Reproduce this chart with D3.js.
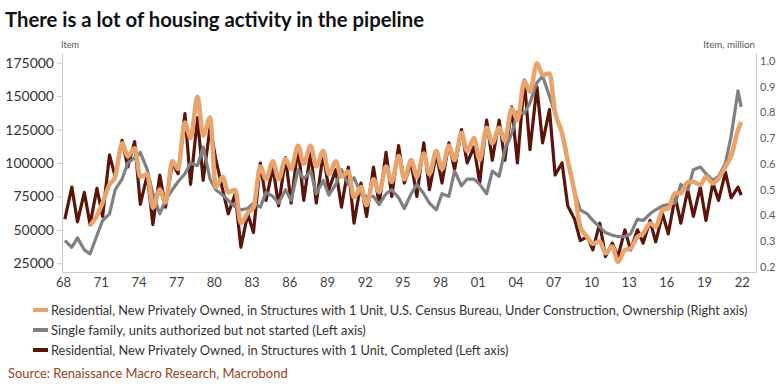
<!DOCTYPE html>
<meta charset="utf-8">
<script src="https://d3js.org/d3.v7.min.js"></script>
<style>
  body { margin: 0; background: #fff; }
  text { font-family: Lato, "Open Sans", sans-serif; }
</style>
<body>
<div id="chart"></div>
<script>
// half-year samples: early (Y+0.15) and mid/late (Y+0.7) of each year, last point early 2022
var dates = [];
for (var yr = 1968; yr <= 2021; yr++) { dates.push(yr + 0.15, yr + 0.7); }
dates.push(2021.95);

// Completed, 1 unit (left axis)
var completed = [
  58000, 82000, 56000, 78000, 54000, 81000, 60000, 106000, 90000, 117000,
  97000, 116000, 69000, 91000, 54000, 91000, 67000, 100000, 92000, 137000,
  84000, 134000, 87000, 127000, 103000, 80000, 62000, 77000, 37000, 62000,
  48000, 100000, 72000, 97000, 68000, 104000, 70000, 112000, 72000, 108000,
  70000, 107000, 80000, 95000, 67000, 97000, 55000, 85000, 60000, 97000,
  69000, 108000, 75000, 113000, 85000, 100000, 75000, 115000, 80000, 107000,
  85000, 115000, 95000, 125000, 100000, 112000, 85000, 132000, 102000, 132000,
  102000, 142000, 100000, 162000, 110000, 157000, 115000, 140000, 91000, 100000,
  68000, 58000, 42000, 45000, 35000, 55000, 30000, 40000, 30000, 50000,
  35000, 50000, 40000, 57000, 41000, 62000, 47000, 75000, 55000, 80000,
  60000, 82000, 57000, 85000, 72000, 93000, 74000, 82000, 76000
];

// Under construction, ownership, 1 unit (right axis, million)
var underConstruction = [
  null, null, null, null, 0.36, 0.40, 0.45, 0.52, 0.55, 0.68,
  0.63, 0.66, 0.55, 0.56, 0.43, 0.50, 0.45, 0.61, 0.58, 0.76,
  0.70, 0.86, 0.71, 0.78, 0.51, 0.55, 0.49, 0.50, 0.37, 0.41,
  0.43, 0.59, 0.54, 0.61, 0.54, 0.62, 0.58, 0.67, 0.60, 0.67,
  0.59, 0.65, 0.56, 0.61, 0.55, 0.57, 0.47, 0.51, 0.44, 0.54,
  0.49, 0.59, 0.53, 0.63, 0.54, 0.615, 0.55, 0.64, 0.56, 0.65,
  0.58, 0.67, 0.615, 0.72, 0.65, 0.70, 0.615, 0.74, 0.68, 0.74,
  0.69, 0.815, 0.77, 0.92, 0.88, 0.99, 0.945, 0.95, 0.80, 0.72,
  0.615, 0.49, 0.356, 0.317, 0.29, 0.30, 0.253, 0.279, 0.22, 0.266,
  0.272, 0.317, 0.33, 0.369, 0.356, 0.421, 0.427, 0.486, 0.486, 0.53,
  0.53, 0.518, 0.55, 0.524, 0.544, 0.589, 0.63, 0.731, 0.763
];

// Single family, authorized but not started (left axis)
var notStarted = [
  42000, 37000, 44000, 35000, 32000, 46000, 57000, 62000, 80000, 88000,
  100000, 104000, 108000, 95000, 77000, 62000, 72000, 80000, 86000, 92000,
  100000, 98000, 112000, 88000, 80000, 76000, 72000, 67000, 65000, 66000,
  70000, 67000, 78000, 75000, 70000, 80000, 72000, 95000, 88000, 94000,
  77000, 87000, 76000, 84000, 95000, 84000, 89000, 77000, 75000, 75000,
  69000, 77000, 80000, 74000, 66000, 77000, 84000, 77000, 70000, 65000,
  77000, 75000, 94000, 83000, 88000, 88000, 84000, 77000, 94000, 90000,
  110000, 122000, 138000, 137000, 145000, 160000, 165000, 150000, 137000, 122000,
  100000, 78000, 65000, 62000, 57000, 52000, 48000, 46000, 45000, 45000,
  47000, 58000, 57000, 62000, 65000, 68000, 69000, 70000, 84000, 80000,
  95000, 97000, 92000, 87000, 90000, 100000, 120000, 154000, 142000
];

var xTicks = [1968, 1971, 1974, 1977, 1980, 1983, 1986, 1989, 1992, 1995, 1998,
              2001, 2004, 2007, 2010, 2013, 2016, 2019, 2022];
var leftTicks = [25000, 50000, 75000, 100000, 125000, 150000, 175000];
var rightTicks = [0.2, 0.3, 0.4, 0.5, 0.6, 0.7, 0.8, 0.9, 1.0];

var legendItems = [
  {label: "Residential, New Privately Owned, in Structures with 1 Unit, U.S. Census Bureau, Under Construction, Ownership (Right axis)", color: "#e9a46d", w: 697},
  {label: "Single family, units authorized but not started (Left axis)", color: "#808080", w: 315},
  {label: "Residential, New Privately Owned, in Structures with 1 Unit, Completed (Left axis)", color: "#5a1409", w: 458}
];

var W = 781, H = 390;
var plot = {left: 62, right: 756, top: 53, bottom: 272};

var svg = d3.select("#chart").append("svg")
    .attr("width", W).attr("height", H);

function fit(sel, target) {
    var cur = sel.node().getComputedTextLength();
    var fs = parseFloat(sel.attr("font-size"));
    sel.attr("font-size", fs * target / cur);
}

var x = d3.scaleLinear().domain([1967.92, 2023.13]).range([plot.left, plot.right]);
var yL = d3.scaleLinear().domain([18494, 182254]).range([plot.bottom, plot.top]);
var yR = d3.scaleLinear().domain([0.1806, 1.0298]).range([plot.bottom, plot.top]);

// title
svg.append("text")
    .attr("x", 5).attr("y", 27)
    .attr("font-size", 20).attr("font-weight", "bold").attr("fill", "#111")
    .attr("textLength", 419).attr("lengthAdjust", "spacingAndGlyphs")
    .text("There is a lot of housing activity in the pipeline");

// unit labels
var il = svg.append("text").attr("x", 61).attr("y", 48)
    .attr("font-size", 9).attr("fill", "#595959").text("Item");
fit(il, 18);
var ir = svg.append("text").attr("x", 755).attr("y", 48).attr("text-anchor", "end")
    .attr("font-size", 9).attr("fill", "#595959").text("Item, million");
fit(ir, 52);

// axes
var gx = svg.append("g")
    .attr("transform", "translate(0," + plot.bottom + ")")
    .call(d3.axisBottom(x).tickValues(xTicks).tickSize(0).tickPadding(6)
        .tickFormat(function(d) { return String(d).slice(2); }));
gx.select(".domain").attr("stroke", "#c8c8c8");
gx.selectAll("text").attr("font-size", 13).attr("fill", "#404040")
    .attr("font-family", "Lato, sans-serif");

var gl = svg.append("g")
    .attr("transform", "translate(" + plot.left + ",0)")
    .call(d3.axisLeft(yL).tickValues(leftTicks).tickSize(5).tickSizeOuter(0).tickPadding(3)
        .tickFormat(d3.format("d")));
gl.select(".domain").attr("stroke", "#c8c8c8");
gl.selectAll(".tick line").attr("stroke", "#c8c8c8");
gl.selectAll("text").attr("font-size", 14).attr("fill", "#333")
    .attr("font-family", "Lato, sans-serif");

var gr = svg.append("g")
    .attr("transform", "translate(" + plot.right + ",0)")
    .call(d3.axisRight(yR).tickValues(rightTicks).tickSize(0).tickSizeOuter(0).tickPadding(4)
        .tickFormat(d3.format(".1f")));
gr.select(".domain").attr("stroke", "#c8c8c8");
gr.selectAll("text").attr("font-size", 11).attr("fill", "#595959")
    .attr("font-family", "Lato, sans-serif");

// series
function series(vals) {
    return vals.map(function(v, i) { return {t: dates[i], v: v}; });
}
var lineL = d3.line()
    .defined(function(d) { return d.v != null; })
    .x(function(d) { return x(d.t); })
    .y(function(d) { return yL(d.v); });
var lineR = d3.line()
    .defined(function(d) { return d.v != null; })
    .x(function(d) { return x(d.t); })
    .y(function(d) { return yR(d.v); })
    .curve(d3.curveMonotoneX);

svg.append("path").datum(series(completed))
    .attr("d", lineL).attr("fill", "none")
    .attr("stroke", legendItems[2].color).attr("stroke-width", 3.2)
    .attr("stroke-linejoin", "round");
svg.append("path").datum(series(notStarted))
    .attr("d", lineL).attr("fill", "none")
    .attr("stroke", legendItems[1].color).attr("stroke-width", 3.2)
    .attr("stroke-linejoin", "round");
svg.append("path").datum(series(underConstruction))
    .attr("d", lineR).attr("fill", "none")
    .attr("stroke", legendItems[0].color).attr("stroke-width", 4.5)
    .attr("stroke-linejoin", "round");

// legend
legendItems.forEach(function(item, i) {
    var cy = 310 + i * 20;
    svg.append("line")
        .attr("x1", 33).attr("x2", 48).attr("y1", cy).attr("y2", cy)
        .attr("stroke", item.color).attr("stroke-width", 4);
    var t = svg.append("text")
        .attr("x", 51).attr("y", cy + 4.5)
        .attr("font-size", 12.5).attr("fill", "#333")
        .text(item.label);
    fit(t, item.w);
});

// source
var src = svg.append("text")
    .attr("x", 8).attr("y", 377.5)
    .attr("font-size", 12.5).attr("fill", "#9a3d1f")
    .text("Source: Renaissance Macro Research, Macrobond");
fit(src, 280);
</script>
</body>
